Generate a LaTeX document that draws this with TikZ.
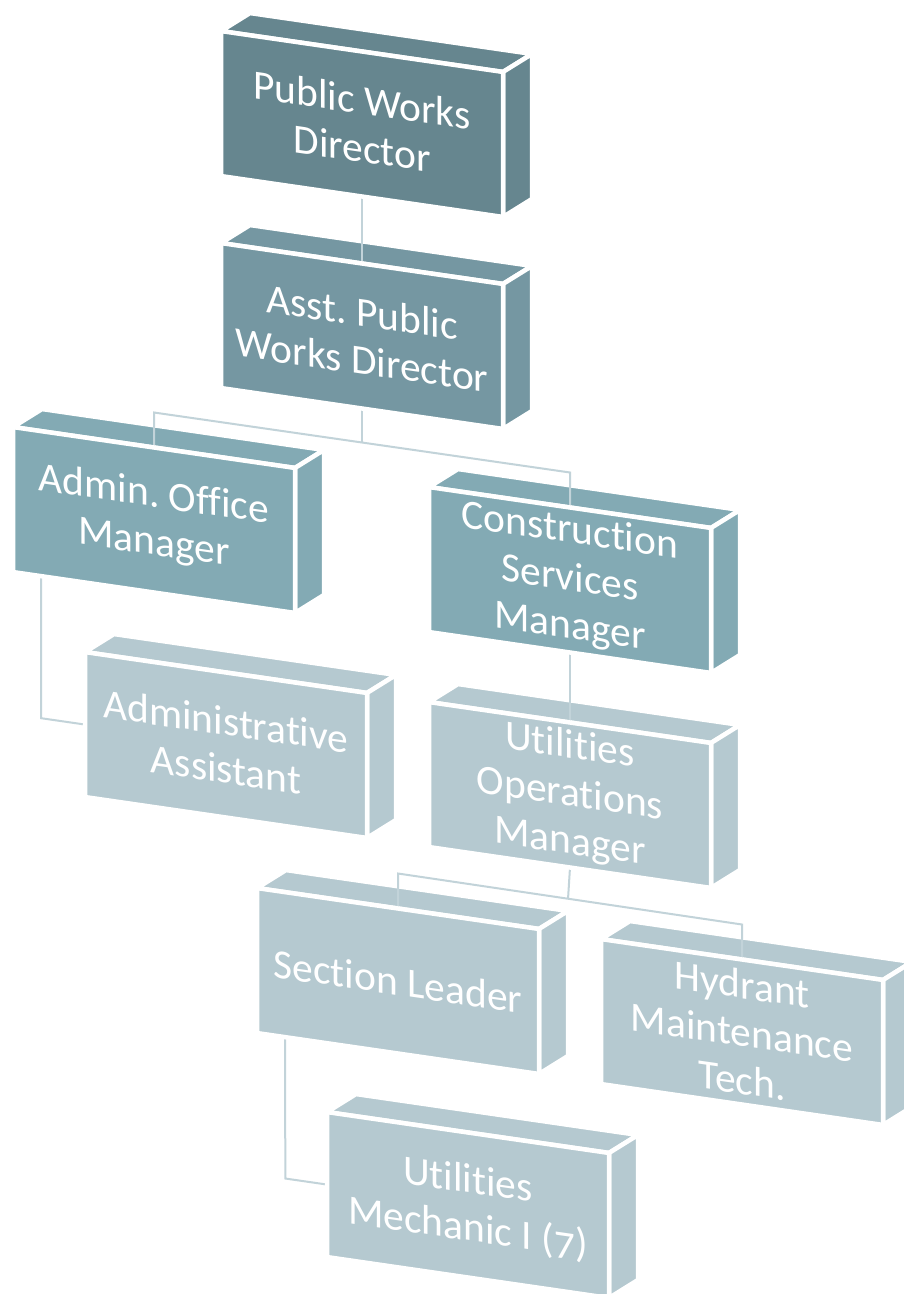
\documentclass[tikz,border=0pt]{standalone}
\usepackage{fontspec}
\setmainfont{Carlito}[Ligatures=NoCommon]
\usetikzlibrary{calc}
\frenchspacing
\pgfdeclarelayer{faces}
\pgfdeclarelayer{fronts}
\pgfsetlayers{faces,main,fronts}
\definecolor{cA}{RGB}{102,134,143}
\definecolor{cB}{RGB}{117,151,162}
\definecolor{cC}{RGB}{131,170,180}
\definecolor{cD}{RGB}{181,201,208}
\definecolor{cL}{RGB}{194,211,217}
\tikzset{
  face/.style={draw=white, line width=4.5pt, line join=miter},
  frontbox/.style={face, fill=#1, minimum width=282pt, minimum height=145pt,
    inner sep=0pt, outer sep=0pt, yslant=-0.145, text=white, align=center,
    font=\fontsize{41.5}{48}\selectfont},
  conn/.style={draw=cL, line width=2pt},
}
\newcommand\orgbox[5]{%
  \begin{pgfonlayer}{fronts}
    \node[frontbox=#4] (#1) at ({#2+141},{#3+93}) {#5};
  \end{pgfonlayer}
  \begin{pgfonlayer}{faces}
    \draw[face, fill=#4] (#1.north west) -- ++(29,-18) -- ($(#1.north east)+(29,-18)$) -- (#1.north east) -- cycle;
    \draw[face, fill=#4] (#1.north east) -- ++(29,-18) -- ($(#1.south east)+(29,-18)$) -- (#1.south east) -- cycle;
  \end{pgfonlayer}
}
\begin{document}
\begin{tikzpicture}[x=1pt, y=-1pt]
\useasboundingbox (0,0) rectangle (903,1294);
\clip (0,0) rectangle (903,1294);
\begin{pgfonlayer}{faces}
  \fill[white] (0,0) rectangle (903,1294);
\end{pgfonlayer}
\orgbox{b1}{221}{31}{cA}{Public Works\\Director}
\orgbox{b2}{221}{243}{cB}{Asst. Public\\Works Director}
\orgbox{b3}{13}{427}{cC}{Admin. Office\\Manager}
\orgbox{b4}{429}{487}{cC}{Construction\\Services\\Manager}
\orgbox{b5}{85}{652}{cD}{Administrative\\Assistant}
\orgbox{b6}{429}{702}{cD}{Utilities\\Operations\\Manager}
\orgbox{b7}{257}{888}{cD}{Section Leader}
\orgbox{b8}{601}{939}{cD}{Hydrant\\Maintenance\\Tech.}
\orgbox{b9}{327}{1112}{cD}{Utilities\\Mechanic I ({\addfontfeatures{Numbers=OldStyle}7})}
% connectors
\draw[conn] (b1.south) -- (b2.north);
\coordinate (j3) at ($(b3.north)+(0,-35)$);
\coordinate (j4) at ($(b4.north)+(0,-35)$);
\draw[conn] (b2.south) -- ($(j3)!0.5!(j4)$);
\draw[conn] (b3.north) -- (j3) -- (j4) -- (b4.north);
\draw[conn] ($(b3.south west)!0.1!(b3.south east)$) -- ($(b5.west)!-0.1553!(b5.east)$) -- (b5.west);
\draw[conn] (b4.south) -- (b6.north);
\coordinate (j7) at ($(b7.north)+(0,-35)$);
\coordinate (j8) at ($(b8.north)+(0,-35)$);
\draw[conn] (b6.south) -- ($(j7)!0.4943!(j8)$);
\draw[conn] (b7.north) -- (j7) -- (j8) -- (b8.north);
\draw[conn] ($(b7.south west)!0.1!(b7.south east)$) -- ($(b9.west)!-0.148!(b9.east)$) -- (b9.west);
\end{tikzpicture}
\end{document}
